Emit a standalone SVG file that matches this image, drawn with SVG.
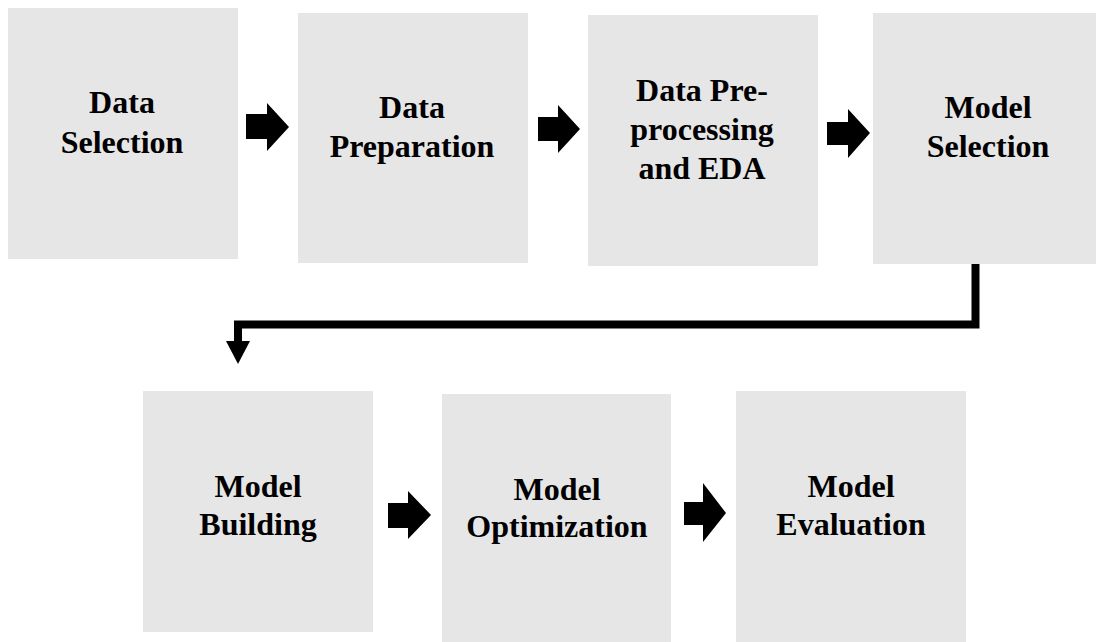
<svg xmlns="http://www.w3.org/2000/svg" width="1096" height="642" viewBox="0 0 1096 642">
<style>
.box{fill:#e6e6e6}
.lbl{font-family:"Liberation Serif","Times New Roman",serif;font-weight:bold;font-size:32px;fill:#000;text-anchor:middle}
.arr{fill:#000}
.conn{fill:none;stroke:#000;stroke-width:8;stroke-linejoin:miter;stroke-linecap:butt}
</style>
<rect width="1096" height="642" fill="#fff"/>
<g id="n1"><rect class="box" x="8" y="8" width="230" height="251"/><text class="lbl" x="122"><tspan x="122" y="113">Data</tspan><tspan x="122" y="153">Selection</tspan></text></g>
<g id="n2"><rect class="box" x="298" y="13" width="230" height="250"/><text class="lbl"><tspan x="412" y="118">Data</tspan><tspan x="412" y="157">Preparation</tspan></text></g>
<g id="n3"><rect class="box" x="588" y="15" width="230" height="251"/><text class="lbl"><tspan x="702" y="101">Data Pre-</tspan><tspan x="702" y="140">processing</tspan><tspan x="702" y="179">and EDA</tspan></text></g>
<g id="n4"><rect class="box" x="873" y="13" width="230" height="251"/><text class="lbl"><tspan x="988" y="118">Model</tspan><tspan x="988" y="157">Selection</tspan></text></g>
<g id="n5"><rect class="box" x="143" y="391" width="230" height="241"/><text class="lbl"><tspan x="258" y="497">Model</tspan><tspan x="258" y="535">Building</tspan></text></g>
<g id="n6"><rect class="box" x="442" y="394" width="229" height="248"/><text class="lbl"><tspan x="557" y="500">Model</tspan><tspan x="557" y="537">Optimization</tspan></text></g>
<g id="n7"><rect class="box" x="736" y="391" width="230" height="251"/><text class="lbl"><tspan x="851" y="497">Model</tspan><tspan x="851" y="535">Evaluation</tspan></text></g>
<g id="connectors">
<polygon class="arr" points="246,114 267,114 267,103 289,127 267,151 267,139 246,139"/>
<polygon class="arr" points="538,117 558,117 558,105 580,129 558,153 558,141 538,141"/>
<polygon class="arr" points="827,122 848,122 848,109 870,133 848,158 848,145 827,145"/>
<polygon class="arr" points="388,503 408,503 408,491 431,515 408,539 408,528 388,528"/>
<polygon class="arr" points="684,502 703,502 703,483 726,513 703,542 703,525 684,525"/>
<path class="conn" d="M975.5,264 V324.5 H238 V342"/>
<polygon class="arr" points="226,341 250,341 238,364"/>
</g>
</svg>
